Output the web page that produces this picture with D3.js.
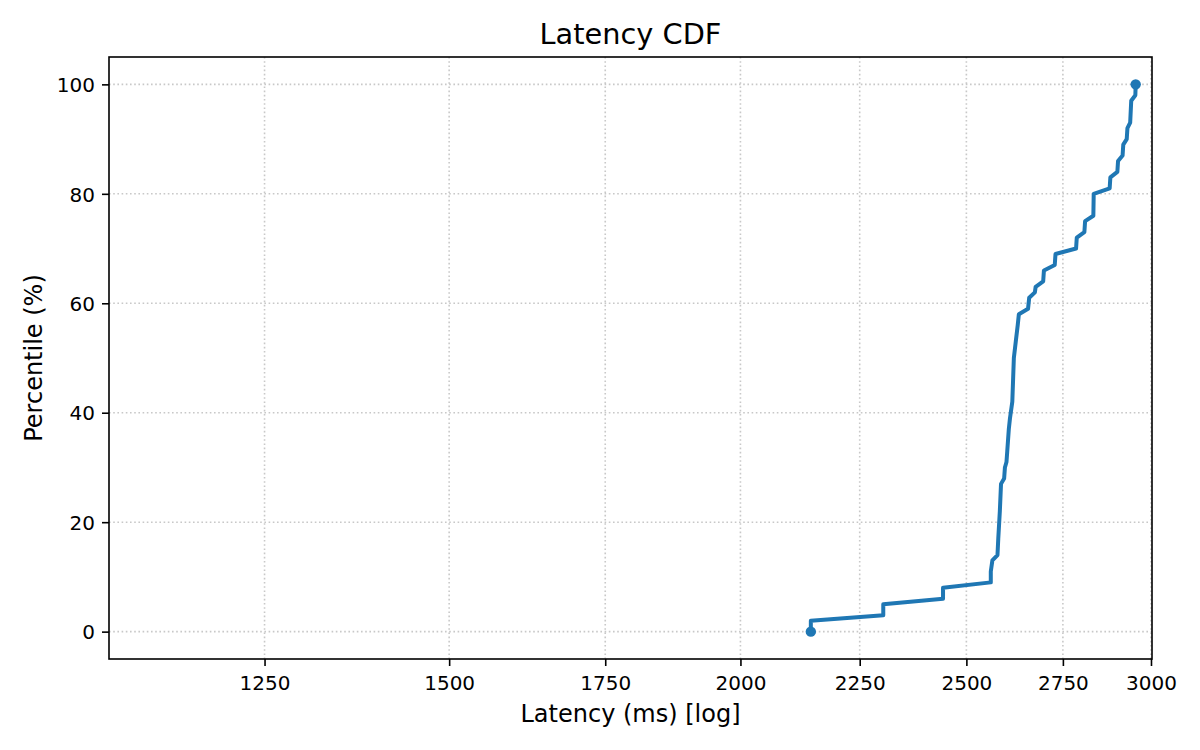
<!DOCTYPE html>
<html lang="en">
<meta charset="utf-8">
<head>
<script src="https://d3js.org/d3.v7.min.js"></script>
<style>
  body { margin: 0; background: #fff; }
  text { font-family: "DejaVu Sans", sans-serif; fill: #000; }
</style>
</head>
<body>
<div id="chart"></div>
<script>

// latency CDF vertices (ms, percentile)
var latency = [2144, 2144, 2303, 2303, 2443, 2443, 2561, 2561, 2565, 2578, 2580, 2584, 2587,
  2595, 2597, 2601, 2603, 2607, 2610, 2616, 2620, 2625, 2630, 2633, 2657, 2660, 2675, 2677,
  2697, 2699, 2728, 2730, 2786, 2788, 2809, 2811, 2834, 2835, 2880, 2882, 2902, 2904, 2917,
  2919, 2929, 2931, 2939, 2942, 2954, 2955];
var percentile = [0, 2, 3, 5, 6, 8, 9, 11, 13, 14, 17, 22, 27,
  28, 30, 31, 33, 37, 39, 42, 50, 53, 56, 58, 59, 61, 62, 63,
  64, 66, 67, 69, 70, 72, 73, 75, 76, 80, 81, 83, 84, 86, 87,
  89, 90, 92, 93, 97, 98, 100];

var xTicks = [1250, 1500, 1750, 2000, 2250, 2500, 2750, 3000];
var yTicks = [0, 20, 40, 60, 80, 100];
var xDomain = [1072, 3003];
var yDomain = [-5, 105];

var W = 1200, H = 750;
var margin = {top: 57, right: 48, bottom: 91, left: 109};
var iw = W - margin.left - margin.right,
    ih = H - margin.top - margin.bottom;

var svg = d3.select("#chart").append("svg")
  .attr("width", W)
  .attr("height", H);

var g = svg.append("g")
  .attr("transform", "translate(" + margin.left + "," + margin.top + ")");

var x = d3.scaleLog().domain(xDomain).range([0, iw]);
var y = d3.scaleLinear().domain(yDomain).range([ih, 0]);

// grid
var grid = g.append("g")
  .attr("stroke", "#b0b0b0")
  .attr("stroke-opacity", 0.7)
  .attr("stroke-width", 1.6)
  .attr("stroke-dasharray", "1.6,2.6");
grid.selectAll(".gx").data(xTicks).enter().append("line")
  .attr("x1", d => x(d)).attr("x2", d => x(d))
  .attr("y1", 0).attr("y2", ih);
grid.selectAll(".gy").data(yTicks).enter().append("line")
  .attr("x1", 0).attr("x2", iw)
  .attr("y1", d => y(d)).attr("y2", d => y(d));

// the curve
var pts = latency.map((d, i) => [d, percentile[i]]);
var line = d3.line().x(d => x(d[0])).y(d => y(d[1]));

g.append("path")
  .datum(pts)
  .attr("d", line)
  .attr("fill", "none")
  .attr("stroke", "#1f77b4")
  .attr("stroke-width", 4)
  .attr("stroke-linejoin", "round");

g.selectAll(".end").data([pts[0], pts[pts.length - 1]]).enter().append("circle")
  .attr("cx", d => x(d[0]))
  .attr("cy", d => y(d[1]))
  .attr("r", 5.2)
  .attr("fill", "#1f77b4");

// axes
var xAxis = g.append("g")
  .attr("transform", "translate(0," + ih + ")")
  .call(d3.axisBottom(x).tickValues(xTicks).tickFormat(d3.format("d")).tickSize(7).tickPadding(7));
xAxis.select(".domain").remove();
xAxis.selectAll("line").attr("stroke", "#000").attr("stroke-width", 1.6);
xAxis.selectAll("text")
  .attr("y", 14).attr("dy", "0.86em")
  .style("font-size", "20px");

var yAxis = g.append("g")
  .call(d3.axisLeft(y).tickValues(yTicks).tickSize(7).tickPadding(7));
yAxis.select(".domain").remove();
yAxis.selectAll("line").attr("stroke", "#000").attr("stroke-width", 1.6);
yAxis.selectAll("text")
  .attr("dy", "0.36em")
  .style("font-size", "20px");

// spines
g.append("rect")
  .attr("width", iw).attr("height", ih)
  .attr("fill", "none")
  .attr("stroke", "#000")
  .attr("stroke-width", 1.6);

// labels
svg.append("text")
  .attr("x", margin.left + iw / 2).attr("y", 43.5)
  .attr("text-anchor", "middle")
  .style("font-size", "28.8px")
  .text("Latency CDF");

svg.append("text")
  .attr("x", margin.left + iw / 2).attr("y", 722)
  .attr("text-anchor", "middle")
  .style("font-size", "24px")
  .text("Latency (ms) [log]");

svg.append("text")
  .attr("transform", "translate(42," + (margin.top + ih / 2) + ") rotate(-90)")
  .attr("text-anchor", "middle")
  .style("font-size", "24px")
  .text("Percentile (%)");

</script>
</body>
</html>
